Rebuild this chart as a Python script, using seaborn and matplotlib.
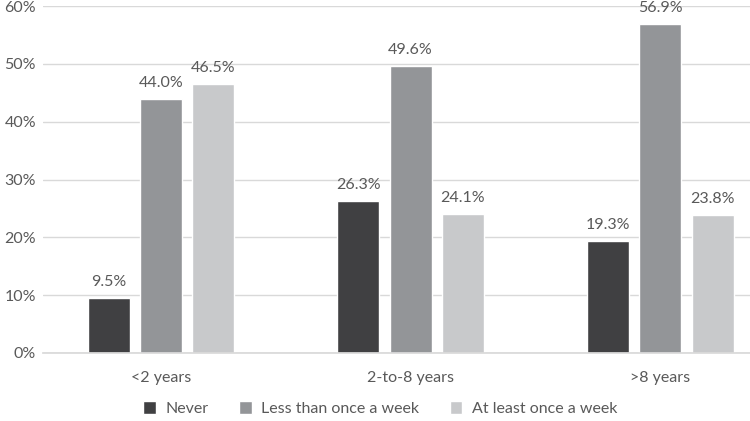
import matplotlib
matplotlib.use('Agg')
import matplotlib.pyplot as plt
import seaborn as sns
import pandas as pd

# Data
groups = ['<2 years', '2-to-8 years', '>8 years']
series = ['Never', 'Less than once a week', 'At least once a week']
never = [9.5, 26.3, 19.3]
less_weekly = [44.0, 49.6, 56.9]
at_least_weekly = [46.5, 24.1, 23.8]

colors = ['#404042', '#939598', '#c8c9cb']
text_color = '#595959'

sns.set_theme(style='white')
plt.rcParams['font.family'] = ['Lato', 'DejaVu Sans']

rows = []
for s, vals in zip(series, [never, less_weekly, at_least_weekly]):
    for g, v in zip(groups, vals):
        rows.append({'Group': g, 'Series': s, 'Value': v})
df = pd.DataFrame(rows)

fig = plt.figure(figsize=(7.5, 4.21), dpi=100)
ax = fig.add_axes([43 / 750, 68 / 421, 707 / 750, 347 / 421])

sns.barplot(data=df, x='Group', y='Value', hue='Series', order=groups,
            hue_order=series, palette=colors, width=0.63, gap=0.2,
            saturation=1, ax=ax, legend=True)

ax.set_ylim(0, 60)
ax.set_xlim(-0.473, 2.36)
ax.set_yticks(range(0, 61, 10))
ax.set_yticklabels([f'{t}%' for t in range(0, 61, 10)])
ax.yaxis.grid(True, color='#d9d9d9', linewidth=1)
ax.set_axisbelow(True)
for sp in ['top', 'right', 'left']:
    ax.spines[sp].set_visible(False)
ax.spines['bottom'].set_color('#d9d9d9')
ax.set_xlabel('')
ax.set_ylabel('')
ax.tick_params(axis='both', colors=text_color, labelsize=11.5, length=0)
ax.tick_params(axis='x', pad=13)
ax.tick_params(axis='y', pad=5)

for c in ax.containers:
    ax.bar_label(c, fmt='%.1f%%', padding=6.5, color=text_color, fontsize=11.5)

ax.legend(loc='lower center', bbox_to_anchor=(0.477, -0.2),
          ncol=3, frameon=False, fontsize=11.5, handlelength=0.8,
          handleheight=0.8, columnspacing=1.9, handletextpad=0.6,
          labelcolor=text_color, borderaxespad=0)

fig.savefig('out.png', dpi=100)
